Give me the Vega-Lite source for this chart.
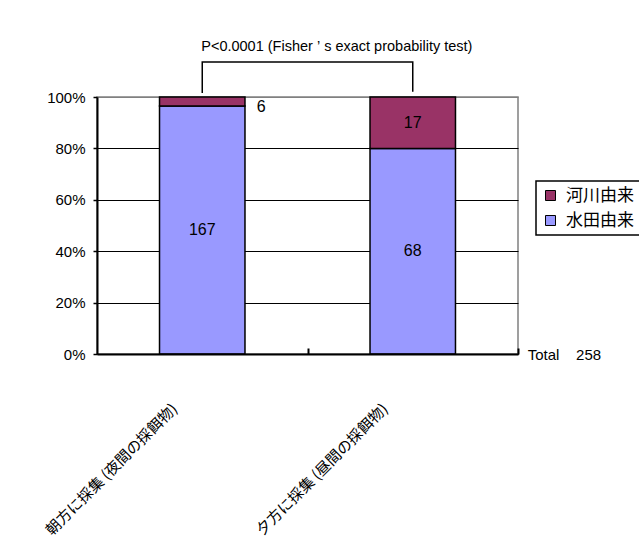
{
  "$schema": "https://vega.github.io/schema/vega-lite/v6.json",
  "width": 421,
  "height": 257,
  "autosize": {"type": "none"},
  "padding": {"left": 97, "top": 97, "right": 121, "bottom": 192},
  "background": "white",
  "config": {
    "view": {"stroke": "#808080", "strokeWidth": 1.5},
    "font": "Liberation Sans",
    "legend": {
      "orient": "none",
      "legendX": 439,
      "legendY": 84,
      "strokeColor": "black",
      "strokeWidth": 1.5,
      "fillColor": "white",
      "padding": 6,
      "symbolType": "square",
      "symbolSize": 100,
      "symbolStrokeColor": "black",
      "symbolStrokeWidth": 1,
      "labelFont": "Noto Sans CJK JP",
      "labelFontSize": 17,
      "labelColor": "black",
      "labelOffset": 7,
      "rowPadding": 7
    }
  },
  "datasets": {
    "counts": [
      {"cat": "朝方に採集 (夜間の採餌物)", "src": "水田由来", "n": 167, "ord": 1},
      {"cat": "朝方に採集 (夜間の採餌物)", "src": "河川由来", "n": 6, "ord": 2},
      {"cat": "夕方に採集 (昼間の採餌物)", "src": "水田由来", "n": 68, "ord": 1},
      {"cat": "夕方に採集 (昼間の採餌物)", "src": "河川由来", "n": 17, "ord": 2}
    ],
    "bracket": [
      {"cat": "朝方に採集 (夜間の採餌物)", "y": 1.016, "ord": 1},
      {"cat": "朝方に採集 (夜間の採餌物)", "y": 1.136, "ord": 2},
      {"cat": "夕方に採集 (昼間の採餌物)", "y": 1.136, "ord": 3},
      {"cat": "夕方に採集 (昼間の採餌物)", "y": 1.02, "ord": 4}
    ],
    "notes": [
      {"cat": "朝方に採集 (夜間の採餌物)", "y": 1.195, "label": "P<0.0001 (Fisher\u00a0’\u00a0s exact probability test)"}
    ],
    "total": [
      {"cat": "夕方に採集 (昼間の採餌物)", "y": 0, "label": "Total\u00a0\u00a0\u00a0\u00a0258"}
    ]
  },
  "encoding": {
    "x": {
      "field": "cat",
      "type": "nominal",
      "sort": null,
      "scale": {"domain": ["朝方に採集 (夜間の採餌物)", "夕方に採集 (昼間の採餌物)"], "paddingInner": 0.594, "paddingOuter": 0.297},
      "axis": {
        "title": null,
        "ticks": true,
        "tickOffset": 105.25,
        "tickSize": -6,
        "tickColor": "black",
        "tickWidth": 2,
        "domainColor": "black",
        "domainWidth": 2,
        "labelAngle": -45,
        "labelFont": "Noto Sans CJK JP",
        "labelFontSize": 15,
        "labelColor": "black",
        "labelPadding": 53,
        "labelOffset": -138.25,
        "zindex": 1
      }
    }
  },
  "layer": [
    {
      "data": {"name": "counts"},
      "transform": [
        {"stack": "n", "groupby": ["cat"], "sort": [{"field": "ord"}], "offset": "normalize", "as": ["v0", "v1"]}
      ],
      "mark": {"type": "bar", "stroke": "black", "strokeWidth": 1.5},
      "encoding": {
        "y": {
          "field": "v0",
          "type": "quantitative",
          "scale": {"domain": [0, 1], "nice": false},
          "axis": {
            "title": null,
            "values": [0, 0.2, 0.4, 0.6, 0.8, 1],
            "format": ".0%",
            "grid": true,
            "gridColor": {"condition": {"test": "datum.value === 1", "value": "#808080"}, "value": "black"},
            "gridWidth": 1.2,
            "domainColor": "black",
            "domainWidth": 2,
            "tickColor": "black",
            "tickSize": 4,
            "tickWidth": 1.5,
            "labelFontSize": 15,
            "labelColor": "black",
            "labelPadding": 8
          }
        },
        "y2": {"field": "v1"},
        "color": {
          "field": "src",
          "type": "nominal",
          "scale": {"domain": ["河川由来", "水田由来"], "range": ["#993366", "#9999FF"]},
          "legend": {"title": null}
        }
      }
    },
    {
      "data": {"name": "counts"},
      "transform": [
        {"stack": "n", "groupby": ["cat"], "sort": [{"field": "ord"}], "offset": "normalize", "as": ["v0", "v1"]},
        {"calculate": "(datum.v0 + datum.v1) / 2", "as": "mid"},
        {"filter": "datum.n !== 6"}
      ],
      "mark": {"type": "text", "fontSize": 16, "color": "black", "baseline": "middle"},
      "encoding": {
        "y": {"field": "mid", "type": "quantitative"},
        "text": {"field": "n", "type": "quantitative"}
      }
    },
    {
      "data": {"name": "counts"},
      "transform": [
        {"stack": "n", "groupby": ["cat"], "sort": [{"field": "ord"}], "offset": "normalize", "as": ["v0", "v1"]},
        {"calculate": "(datum.v0 + datum.v1) / 2", "as": "mid"},
        {"filter": "datum.n === 6"}
      ],
      "mark": {"type": "text", "fontSize": 16, "color": "black", "baseline": "middle", "dx": 59, "dy": 6},
      "encoding": {
        "y": {"field": "mid", "type": "quantitative"},
        "text": {"field": "n", "type": "quantitative"}
      }
    },
    {
      "data": {"name": "bracket"},
      "mark": {"type": "line", "color": "black", "strokeWidth": 1.5},
      "encoding": {
        "y": {"field": "y", "type": "quantitative"},
        "order": {"field": "ord", "type": "quantitative"}
      }
    },
    {
      "data": {"name": "notes"},
      "mark": {"type": "text", "fontSize": 14.5, "color": "black", "align": "left", "baseline": "middle", "dx": -1},
      "encoding": {
        "y": {"field": "y", "type": "quantitative"},
        "text": {"field": "label", "type": "nominal"}
      }
    },
    {
      "data": {"name": "total"},
      "mark": {"type": "text", "fontSize": 15, "color": "black", "align": "left", "baseline": "middle", "dx": 115, "dy": 1},
      "encoding": {
        "y": {"field": "y", "type": "quantitative"},
        "text": {"field": "label", "type": "nominal"}
      }
    }
  ]
}
